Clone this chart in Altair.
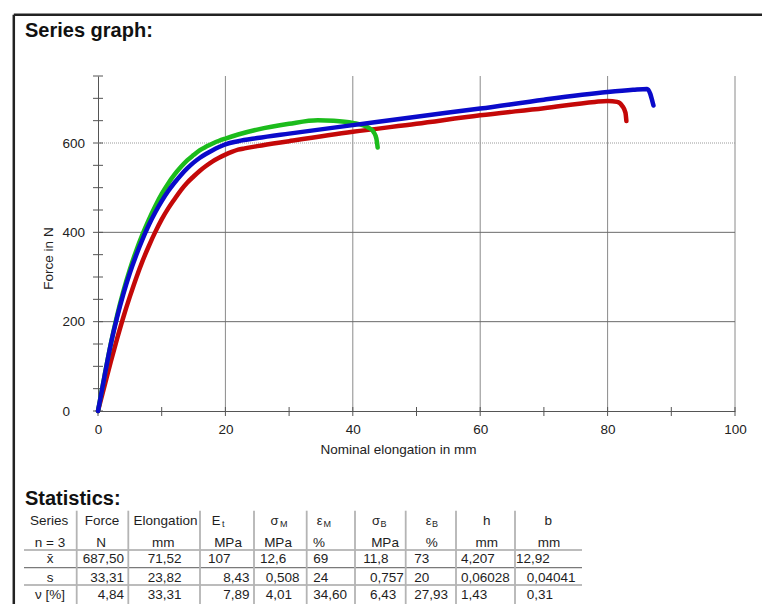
import altair as alt
import pandas as pd

# ---------------- curve data: Nominal elongation (mm) vs Force (N) ----------------
red_x = [0, 1, 2, 3, 4, 5, 6, 7, 8, 9, 10, 11, 12, 13, 14, 15, 16, 17, 18, 19, 20, 21, 22, 23, 25,
         30, 40, 50, 60, 70, 78, 80, 81.5, 82.3, 82.8, 82.95]
red_y = [0, 55, 110, 162, 211, 256, 298, 336, 370, 401, 429, 453, 474, 494, 511, 525, 538, 549, 559, 567,
         574, 580, 585, 588, 593,
         604, 625, 643, 662, 678, 692, 694, 692, 683, 668, 649]

green_x = [0, 1, 2, 3, 4, 5, 6, 7, 8, 9, 10, 11, 12, 13, 14, 15, 16, 17, 18, 19, 20, 22, 25,
           30, 34.5, 37, 40, 42.5, 43.3, 43.7, 43.9]
green_y = [0, 77, 150, 214, 269, 317, 359, 396, 429, 459, 486, 509, 529, 546, 561, 573, 584, 592, 599, 605,
           610, 619, 630,
           643, 651, 650, 645, 634, 624, 610, 590]

blue_x = [0, 1, 2, 3, 4, 5, 6, 7, 8, 9, 10, 11, 12, 13, 14, 15, 16, 17, 18, 19, 20, 22, 25,
          30, 40, 50, 60, 70, 80, 84, 86.2, 86.7, 87.0, 87.2]
blue_y = [0, 76, 149, 210, 263, 309, 349, 385, 417, 445, 470, 492, 511, 528, 543, 556, 567, 576, 584, 591,
          597, 604, 611,
          621, 640, 659, 677, 697, 714, 719, 721, 710, 695, 684]

# ---------------- axes ----------------
x_tick_values = list(range(0, 101, 10))
y_tick_values = list(range(0, 751, 50))
x_label_values = [0, 20, 40, 60, 80, 100]
y_label_values = [0, 200, 400, 600]
x_grid_values = [20, 40, 60, 80, 100]
y_grid_solid = [200, 400]
y_grid_dotted = [600]

# ---------------- statistics table ----------------
header_top = ["Series", "Force", "Elongation", "E", "σ", "ε", "σ", "ε", "h", "b"]
header_sub = ["", "", "", "t", "M", "M", "B", "B", "", ""]
header_units = ["n = 3", "N", "mm", "MPa", "MPa", "%", "MPa", "%", "mm", "mm"]
row_names = ["x̄", "s", "ν [%]"]
mean_vals = ["687,50", "71,52", "107", "12,6", "69", "11,8", "73", "4,207", "12,92"]
sd_vals = ["33,31", "23,82", "8,43", "0,508", "24", "0,757", "20", "0,06028", "0,04041"]
cv_vals = ["4,84", "33,31", "7,89", "4,01", "34,60", "6,43", "27,93", "1,43", "0,31"]

# ---------------- layout (page pixels) ----------------
OX, OY = 98, 76          # page position of the plot origin (top-left)
W, H = 637, 335
FONT = "Liberation Sans"
INK = "#1e1e1e"

header_top_x = [49, 102, 165.5, 220.5, 278.5, 322.5, 380, 431.5, 486.7, 548.3]   # symbols: right edge
header_sub_x = [0, 0, 0, 222, 280, 323.5, 380.5, 432, 0, 0]                       # subscripts: left edge
header_units_x = [50, 101, 163.3, 228, 278, 319, 385, 431.7, 486.7, 549]
row_name_x = 50
value_x = [
    [124, 164.7, 208, 260, 313.3, 363.3, 414.3, 461, 516],
    [124, 164.7, 249.5, 265.7, 313.3, 370, 414.3, 461, 526.7],
    [124, 164.7, 249.5, 265.7, 313.3, 370, 414.3, 461, 526.7],
]
value_align = [
    ["right", "center", "left", "left", "left", "left", "left", "left", "left"],
    ["right", "center", "right", "left", "left", "left", "left", "left", "left"],
    ["right", "center", "right", "left", "left", "left", "left", "left", "left"],
]
HDR_BASE, UNIT_BASE = 525, 546.7
ROW_BASE = [563.3, 581.7, 599.3]
hline_y = [550, 567.7, 585]
hline_x = (24, 582)
vline_x = [76.7, 128.3, 200, 254, 306.7, 355, 405.7, 456, 515]
vline_y = (510.7, 608)

# ---------------- encodings ----------------
x_scale = alt.Scale(domain=[0, 100], nice=False, zero=False)
y_scale = alt.Scale(domain=[0, 750], nice=False)
x_axis = alt.Axis(values=x_label_values, ticks=False, tickSize=0, grid=False,
                  domainColor="#555", domainWidth=1, labelPadding=11, labelFlush=False,
                  labelOverlap=False, labelAlign="center",
                  title="Nominal elongation in mm", titleX=300, titleY=38,
                  titleBaseline="middle", titleAlign="center")
y_axis = alt.Axis(values=y_label_values, ticks=False, tickSize=0, grid=False,
                  domainColor="#555", domainWidth=1, labelPadding=36, labelAlign="left",
                  labelBaseline="middle", labelFlush=False, labelOverlap=False,
                  title="Force in N", titleX=-50, titleY=182, titleAngle=270,
                  titleBaseline="middle", titleAlign="center")
X_ENC = alt.X("x:Q", scale=x_scale, axis=x_axis)
Y_ENC = alt.Y("y:Q", scale=y_scale, axis=y_axis)


def curve(xv, yv, color):
    df = pd.DataFrame({"x": xv, "y": yv})
    return alt.Chart(df).mark_line(color=color, strokeWidth=4.5, interpolate="monotone",
                                   strokeCap="round", strokeJoin="round").encode(x=X_ENC, y=Y_ENC)


vgrid = alt.Chart(pd.DataFrame({"x": x_grid_values})).mark_rule(color="#8a8a8a", strokeWidth=1).encode(x=X_ENC)
hgrid = alt.Chart(pd.DataFrame({"y": y_grid_solid})).mark_rule(color="#6a6a6a", strokeWidth=1).encode(y=Y_ENC)
hgrid2 = alt.Chart(pd.DataFrame({"y": y_grid_dotted})).mark_rule(color="#9a9a9a", strokeWidth=1, strokeDash=[1, 1]).encode(y=Y_ENC)
xticks = alt.Chart(pd.DataFrame({"x": x_tick_values})).mark_rule(color="#555", strokeWidth=1).encode(
    x=X_ENC, y=alt.value(H - 4), y2=alt.value(H + 5))
yticks = alt.Chart(pd.DataFrame({"y": y_tick_values})).mark_rule(color="#555", strokeWidth=1).encode(
    y=Y_ENC, x=alt.value(-5), x2=alt.value(5))

red = curve(red_x, red_y, "#C40808")
green = curve(green_x, green_y, "#1CBC1C")
blue = curve(blue_x, blue_y, "#0A0ACA")

one = pd.DataFrame({"a": [0]})
frame_left = alt.Chart(one).mark_rule(color="#222", strokeWidth=2.5).encode(
    x=alt.value(13.8 - OX), y=alt.value(14.7 - OY), y2=alt.value(640 - OY))
frame_top = alt.Chart(one).mark_rule(color="#222", strokeWidth=2.5).encode(
    x=alt.value(13.8 - OX), x2=alt.value(780 - OX), y=alt.value(14.7 - OY))

title1 = alt.Chart(pd.DataFrame({"t": ["Series graph:"]})).mark_text(
    align="left", baseline="alphabetic", font=FONT, fontSize=20, fontWeight="bold", color="#111").encode(
    x=alt.value(25 - OX), y=alt.value(36.7 - OY), text="t:N")
title2 = alt.Chart(pd.DataFrame({"t": ["Statistics:"]})).mark_text(
    align="left", baseline="alphabetic", font=FONT, fontSize=20, fontWeight="bold", color="#111").encode(
    x=alt.value(25 - OX), y=alt.value(505 - OY), text="t:N")

# table cells
plain, symbols, subs, left_vals, right_vals = [], [], [], [], []
for i, t in enumerate(header_top):
    rec = {"px": header_top_x[i] - OX, "py": HDR_BASE - OY, "text": t}
    if header_sub[i]:
        symbols.append(rec)
        subs.append({"px": header_sub_x[i] - OX, "py": HDR_BASE + 2 - OY, "text": header_sub[i]})
    else:
        plain.append(rec)
for i, t in enumerate(header_units):
    plain.append({"px": header_units_x[i] - OX, "py": UNIT_BASE - OY, "text": t})
rows = [mean_vals, sd_vals, cv_vals]
for r, name in enumerate(row_names):
    plain.append({"px": row_name_x - OX, "py": ROW_BASE[r] - OY, "text": name})
    for c, v in enumerate(rows[r]):
        rec = {"px": value_x[r][c] - OX, "py": ROW_BASE[r] - OY, "text": v}
        a = value_align[r][c]
        (plain if a == "center" else left_vals if a == "left" else right_vals).append(rec)


def text_layer(recs, align, size):
    return alt.Chart(pd.DataFrame(recs)).mark_text(
        align=align, baseline="alphabetic", font=FONT, fontSize=size, color=INK).encode(
        x=alt.X("px:Q", scale=None), y=alt.Y("py:Q", scale=None), text="text:N")


t_plain = text_layer(plain, "center", 13.5)
t_sym = text_layer(symbols, "right", 13)
t_sub = text_layer(subs, "left", 9)
t_left = text_layer(left_vals, "left", 13.5)
t_right = text_layer(right_vals, "right", 13.5)

hl = pd.DataFrame({"x1": [hline_x[0] - OX] * len(hline_y), "x2": [hline_x[1] - OX] * len(hline_y),
                   "y1": [v - OY for v in hline_y]})
table_h = alt.Chart(hl).mark_rule(color="#7a7a7a", strokeWidth=1.2).encode(
    x=alt.X("x1:Q", scale=None), x2="x2:Q", y=alt.Y("y1:Q", scale=None))
vl = pd.DataFrame({"x1": [v - OX for v in vline_x], "y1": [vline_y[0] - OY] * len(vline_x),
                   "y2": [vline_y[1] - OY] * len(vline_x)})
table_v = alt.Chart(vl).mark_rule(color="#b4b4b4", strokeWidth=1.8).encode(
    x=alt.X("x1:Q", scale=None), y=alt.Y("y1:Q", scale=None), y2="y2:Q")

chart = alt.layer(
    vgrid, hgrid, hgrid2, xticks, yticks, red, green, blue,
    frame_left, frame_top, title1, title2, table_h, table_v,
    t_plain, t_sym, t_sub, t_left, t_right,
).properties(
    width=W, height=H,
    autosize=alt.AutoSizeParams(type="none"),
    padding={"left": 90, "top": 68, "right": 27, "bottom": 193},
    background="white",
).configure_view(stroke=None).configure_axis(
    labelFont=FONT, titleFont=FONT, labelFontSize=13.5, titleFontSize=13.5,
    labelColor="#222", titleColor="#222", titleFontWeight="normal",
)

chart.save("out.html", embed_options={"renderer": "svg", "actions": False})
